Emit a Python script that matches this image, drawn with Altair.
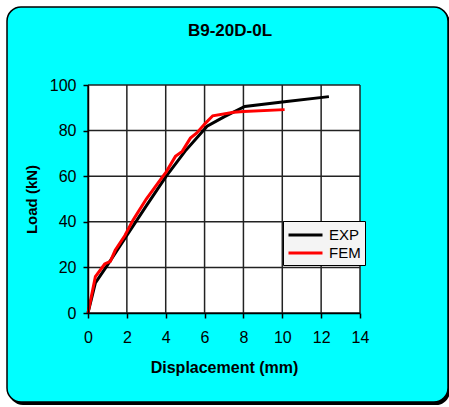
import altair as alt
import pandas as pd

# ---- data ----
exp_x = [0.0, 0.38, 1.0, 2.0, 3.0, 4.02, 5.0, 6.13, 7.0, 8.07, 10.0, 12.4]
exp_y = [0.0, 13.2, 21.0, 34.0, 47.0, 59.9, 71.0, 81.9, 86.0, 90.6, 92.5, 94.9]

fem_x = [0.0, 0.38, 0.86, 1.15, 1.4, 1.9, 2.3, 2.44, 3.0, 3.73, 4.02, 4.5, 4.85, 5.27, 5.6, 6.05, 6.42, 7.5, 8.0, 10.12]
fem_y = [0.0, 16.0, 21.5, 22.6, 27.5, 34.0, 40.5, 42.4, 50.0, 58.5, 61.8, 68.7, 70.9, 76.7, 79.0, 83.3, 86.5, 88.0, 88.4, 89.2]

x_ticks = [0, 2, 4, 6, 8, 10, 12, 14]
y_ticks = [0, 20, 40, 60, 80, 100]

series = ["EXP", "FEM"]
colors = ["#000000", "#FF0000"]
chart_title = "B9-20D-0L"

W, H = 272, 228
FONT = "Liberation Sans"

df = pd.concat([
    pd.DataFrame({"x": exp_x, "y": exp_y, "series": "EXP", "order": range(len(exp_x))}),
    pd.DataFrame({"x": fem_x, "y": fem_y, "series": "FEM", "order": range(len(fem_x))}),
])

xs = alt.Scale(domain=[0, 14], nice=False)
ys = alt.Scale(domain=[0, 100], nice=False)

xa = alt.Axis(values=x_ticks, title="Displacement (mm)", grid=False,
              domain=True, domainColor="#000", domainWidth=1.5,
              tickColor="#000", tickSize=5, tickWidth=1.5,
              labelFont=FONT, labelFontSize=16, labelColor="#000",
              labelPadding=11, labelFlush=False,
              titleFont=FONT, titleFontSize=16, titleFontWeight="bold",
              titleColor="#000", titlePadding=14, zindex=1)
ya = alt.Axis(values=y_ticks, title="Load (kN)", grid=False,
              domain=True, domainColor="#000", domainWidth=1.5,
              tickColor="#000", tickSize=5, tickWidth=1.5,
              labelFont=FONT, labelFontSize=16, labelColor="#000",
              labelPadding=7, labelFlush=False,
              titleFont=FONT, titleFontSize=15, titleFontWeight="bold",
              titleColor="#000", titlePadding=10, zindex=1)

one = pd.DataFrame({"k": [0]})

shadow = alt.Chart(one).mark_rect(fill="#000000", cornerRadius=14).encode(
    x=alt.value(-79), x2=alt.value(362), y=alt.value(-76), y2=alt.value(320)
)
panel = alt.Chart(one).mark_rect(fill="#00FFFF", stroke="#000000", strokeWidth=1.5, cornerRadius=14).encode(
    x=alt.value(-81), x2=alt.value(360), y=alt.value(-78), y2=alt.value(317)
)
plotbg = alt.Chart(one).mark_rect(fill="#FFFFFF").encode(
    x=alt.value(0), x2=alt.value(W), y=alt.value(0), y2=alt.value(H)
)
title = alt.Chart(pd.DataFrame({"t": [chart_title]})).mark_text(
    font=FONT, fontSize=17, fontWeight="bold", color="#000", baseline="alphabetic", align="center"
).encode(text="t:N", x=alt.value(142), y=alt.value(-49))

vgrid = alt.Chart(pd.DataFrame({"t": x_ticks})).mark_rule(color="#222222", strokeWidth=1.5).encode(
    x=alt.X("t:Q", scale=xs, axis=xa)
)
hgrid = alt.Chart(pd.DataFrame({"t": y_ticks})).mark_rule(color="#222222", strokeWidth=1.5).encode(
    y=alt.Y("t:Q", scale=ys, axis=ya)
)

lines = alt.Chart(df).mark_line(strokeWidth=3).encode(
    x=alt.X("x:Q", scale=xs, axis=xa),
    y=alt.Y("y:Q", scale=ys, axis=ya),
    color=alt.Color("series:N", scale=alt.Scale(domain=series, range=colors),
                    legend=alt.Legend(title=None, orient="none", legendX=195, legendY=136,
                                      fillColor="#F4F4F4", strokeColor="#000000",
                                      padding=4, symbolType="M-1,0H3", symbolSize=289,
                                      symbolStrokeWidth=3, labelFont=FONT, labelFontSize=15,
                                      labelColor="#000", rowPadding=0, labelOffset=22)),
    order="order:Q",
)

chart = alt.layer(shadow, panel, plotbg, vgrid, hgrid, lines, title).properties(
    width=W, height=H,
    autosize=alt.AutoSizeParams(type="none"),
    padding={"left": 88, "top": 85, "right": 89, "bottom": 94},
    background="#FFFFFF",
).configure_view(stroke=None)

chart.save("out.html", embed_options={"renderer": "svg", "actions": False})
